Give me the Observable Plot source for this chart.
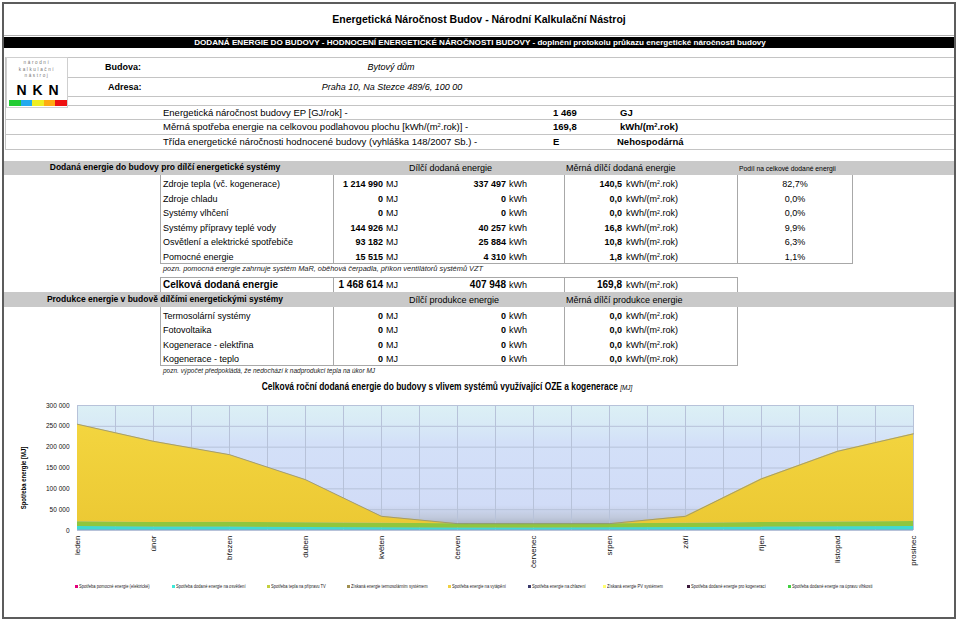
<!DOCTYPE html>
<html><head><meta charset="utf-8">
<script src="https://cdn.jsdelivr.net/npm/d3@7"></script>
<script src="https://cdn.jsdelivr.net/npm/@observablehq/plot@0.6"></script>
<style>
body{margin:0;background:#fff;font-family:Arial,"Liberation Sans",Helvetica,sans-serif;color:#000;}
#page{position:relative;width:959px;height:621px;overflow:hidden;background:#fff;}
sup{font-size:60%;vertical-align:0;position:relative;top:-0.5em;line-height:0;}
#chart{position:absolute;left:0;top:395px;}
</style></head><body><div id="page"></div>
<script>
// ---------- DATA ----------
const months = ["leden","únor","březen","duben","květen","červen","červenec","srpen","září","říjen","listopad","prosinec"];
const seriesNames = ["Spotřeba pomocné energie (elektrické)","Spotřeba dodané energie na osvětlení","Spotřeba tepla na přípravu TV","Spotřeba energie na vytápění"];
const auxMJ      = [1400,1300,1400,1300,1300,1200,1200,1200,1200,1300,1300,1400];
const lightingMJ = [8000,7200,6800,6000,5500,5000,5000,5200,5800,6800,7600,8200];
const hotWaterMJ = [11800,11000,11600,11200,10800,10200,10000,10000,10400,11200,11400,11900];
const heatingMJ  = [233800,194500,162200,103500,16400,0,0,0,16600,104700,169700,210500];
const yTicks = [0,50000,100000,150000,200000,250000,300000];
const legendNames = ["Spotřeba pomocné energie (elektrické)","Spotřeba dodané energie na osvětlení","Spotřeba tepla na přípravu TV","Získaná energie termosolárním systémem","Spotřeba energie na vytápění","Spotřeba energie na chlazení","Získaná energie PV systémem","Spotřeba dodané energie pro kogeneraci","Spotřeba dodané energie na úpravu vlhkosti"];

const rowLabels = ["Zdroje tepla (vč. kogenerace)","Zdroje chladu","Systémy vlhčení","Systémy přípravy teplé vody","Osvětlení a elektrické spotřebiče","Pomocné energie"];
const rowMJ    = ["1 214 990","0","0","144 926","93 182","15 515"];
const rowKWh   = ["337 497","0","0","40 257","25 884","4 310"];
const rowSpec  = ["140,5","0,0","0,0","16,8","10,8","1,8"];
const rowShare = ["82,7%","0,0%","0,0%","9,9%","6,3%","1,1%"];
const totalRow = ["Celková dodaná energie","1 468 614","407 948","169,8"];
const prodLabels = ["Termosolární systémy","Fotovoltaika","Kogenerace - elektřina","Kogenerace - teplo"];
const prodMJ   = ["0","0","0","0"];
const prodKWh  = ["0","0","0","0"];
const prodSpec = ["0,0","0,0","0,0","0,0"];
const summaryLabels = ["Energetická náročnost budovy EP [GJ/rok] -","Měrná spotřeba energie na celkovou podlahovou plochu [kWh/(m<sup>2</sup>.rok)] -","Třída energetické náročnosti hodnocené budovy (vyhláška 148/2007 Sb.) -"];
const summaryValues = ["1 469","169,8","E"];
const summaryUnits = ["GJ","kWh/(m<sup>2</sup>.rok)","Nehospodárná"];

// ---------- STYLES ----------
const chartColors = ["#8b95e0","#3fdad2","#8fc63e","url(#yelG)"];
const legendColors = ["#e4007c","#3ee8d8","#c3cf3c","#a09050","#f0d040","#3a3a6a","#ffff70","#3a1a3a","#40d040"];
const legendX = [75,172,267,347,448,528,603,687,788];

// ---------- LAYOUT HELPERS ----------
const page = document.getElementById("page");
function el(css, html){const d=document.createElement("div");d.style.cssText="position:absolute;"+css;if(html!=null)d.innerHTML=html;page.appendChild(d);return d;}
function txt(x,y,html,css="",anchor="l"){const tx=anchor==="r"?"-100%":anchor==="c"?"-50%":"0";return el(`left:${x}px;top:${y}px;transform:translate(${tx},-50%);white-space:nowrap;line-height:1.15;${css}`,html);}
function hl(x1,x2,y,c="#c4c4c4",h=1){el(`left:${x1}px;top:${y}px;width:${x2-x1}px;height:${h}px;background:${c}`);}
function vl(x,y1,y2,c="#a8a8a8"){el(`left:${x}px;top:${y1}px;width:1px;height:${y2-y1}px;background:${c}`);}

// frame
el("left:2px;top:2px;width:954px;height:617px;box-sizing:border-box;border:2px solid #5c5c5c");
hl(4,954,35,"#b0b0b0");
el("left:4px;top:37px;width:950px;height:11px;background:#000");
txt(480,42.5,"DODANÁ ENERGIE DO BUDOVY - HODNOCENÍ ENERGETICKÉ NÁROČNOSTI BUDOVY - doplnění protokolu průkazu energetické náročnosti budovy","color:#fff;font-weight:bold;font-size:8.1px","c");
txt(479,19,"Energetická Náročnost Budov - Národní Kalkulační Nástroj","font-weight:bold;font-size:10.5px","c");

// header lines
[57,77,96,105].forEach(y=>hl(68,954,y));
[119,134,149].forEach(y=>hl(5,954,y));
vl(5,57,149,"#c4c4c4");
// logo
el("left:6px;top:57px;width:62px;height:51px;box-sizing:border-box;border:1px solid #cfcfcf;background:#fff");
["národní","kalkulační","nástroj"].forEach((w,i)=>txt(37,63+i*6.5,w,"font-size:4.6px;letter-spacing:1.6px;color:#777","c"));
txt(38,89.5,"N&nbsp;K&nbsp;N","font-weight:bold;font-size:14px;letter-spacing:1px","c");
["#22cc33","#22aaee","#eeee22","#ffaa11","#ee1111"].forEach((c,i)=>el(`left:${9+i*11.6}px;top:100px;width:11.6px;height:6px;background:${c}`));

txt(105,67,"Budova:","font-weight:bold;font-size:9px");
txt(391,67,"Bytový dům","font-style:italic;font-size:9px","c");
txt(108,87,"Adresa:","font-weight:bold;font-size:9px");
txt(392,87,"Praha 10, Na Stezce 489/6, 100 00","font-style:italic;font-size:9px","c");

const sumY=[112.5,127,142];
summaryLabels.forEach((s,i)=>{
  txt(163,sumY[i],s,"font-size:9.5px");
  txt(553,sumY[i],summaryValues[i],"font-size:9.5px;font-weight:bold");
  txt(i===2?617:620,sumY[i],summaryUnits[i],"font-size:9.5px;font-weight:bold");
});

// band 1
el("left:4px;top:161px;width:950px;height:14px;background:#c9c9c9");
txt(165,168,"Dodaná energie do budovy pro dílčí energetické systémy","font-weight:bold;font-size:8.5px","c");
txt(409,168,"Dílčí dodaná energie","font-size:9px");
txt(566,168,"Měrná dílčí dodaná energie","font-size:9px");
txt(739,168.5,"Podíl na celkové dodané energii","font-size:6.8px");

// table 1
vl(160,175,263);vl(333,175,263);vl(564,175,263);vl(737,175,263);vl(852,175,263);
hl(160,853,263,"#a8a8a8");
const unitSpec="kWh/(m<sup>2</sup>.rok)";
function valueRow(y,label,mj,kwh,spec,bold){
  const fs=bold?"10px":"9px";
  txt(163,y,label,`font-size:${fs};${bold?"font-weight:bold":""}`);
  txt(383,y,mj,`font-size:${fs};font-weight:bold`,"r");
  txt(386,y,"MJ","font-size:9px");
  txt(506,y,kwh,`font-size:${fs};font-weight:bold`,"r");
  txt(509,y,"kWh","font-size:9px");
  txt(622,y,spec,`font-size:${fs};font-weight:bold`,"r");
  txt(626,y,unitSpec,"font-size:9px");
}
rowLabels.forEach((l,i)=>{
  const y=184+i*14.6;
  valueRow(y,l,rowMJ[i],rowKWh[i],rowSpec[i],false);
  txt(795,y,rowShare[i],"font-size:9px","c");
});
txt(163,268.5,"pozn. pomocná energie zahrnuje systém MaR, oběhová čerpadla, příkon ventilátorů systémů VZT","font-style:italic;font-size:7.4px;color:#222");

// total
hl(160,738,277,"#a8a8a8");
vl(160,277,292);vl(333,277,292);vl(564,277,292);vl(737,277,292);
valueRow(284.5,totalRow[0],totalRow[1],totalRow[2],totalRow[3],true);

// band 2
el("left:4px;top:292px;width:950px;height:15px;background:#c9c9c9");
txt(165,299.5,"Produkce energie v budově dílčími energetickými systémy","font-weight:bold;font-size:8.5px","c");
txt(409,299.5,"Dílčí produkce energie","font-size:9px");
txt(566,299.5,"Měrná dílčí produkce energie","font-size:9px");
vl(160,307,365);vl(333,307,365);vl(564,307,365);vl(737,307,365);
hl(160,738,365,"#a8a8a8");
prodLabels.forEach((l,i)=>valueRow(316+i*14.4,l,prodMJ[i],prodKWh[i],prodSpec[i],false));
txt(163,371,"pozn. výpočet předpokládá, že nedochází k nadprodukci tepla na úkor MJ","font-style:italic;font-size:6.5px;color:#222");

// chart title
txt(447,387,'Celková roční dodaná energie do budovy s vlivem systémů využívající OZE a kogenerace <span style="font-weight:normal;font-style:italic;font-size:7.5px">[MJ]</span>',"font-weight:bold;font-size:10px;transform:translate(-50%,-50%) scaleX(0.84)");
// y label
txt(24,478,"Spotřeba energie [MJ]","font-weight:bold;font-size:7px;transform:translate(-50%,-50%) rotate(-90deg) scaleX(0.85)");

// ---------- CHART ----------
const long=[];
const seriesVals=[auxMJ,lightingMJ,hotWaterMJ,heatingMJ];
seriesNames.forEach((s,k)=>months.forEach((m,i)=>long.push({i,series:s,value:seriesVals[k][i]})));
const totals=months.map((m,i)=>auxMJ[i]+lightingMJ[i]+hotWaterMJ[i]+heatingMJ[i]);
const gridX=d3.range(0,11.01,0.5);

function defsMark(index,scales,values,dim){
  const ns="http://www.w3.org/2000/svg";
  const g=document.createElementNS(ns,"g");
  const x0=dim.marginLeft,y0=dim.marginTop,w=dim.width-dim.marginLeft-dim.marginRight,h=dim.height-dim.marginTop-dim.marginBottom;
  g.innerHTML=`<defs>
  <linearGradient id="bgG" x1="0" y1="0" x2="0" y2="1">
   <stop offset="0" stop-color="#dcf0f5"/><stop offset="0.15" stop-color="#d8eaf6"/>
   <stop offset="0.3" stop-color="#d3e0f8"/><stop offset="0.8" stop-color="#d1dcf7"/>
   <stop offset="0.9" stop-color="#c0c9dc"/><stop offset="1" stop-color="#9aa3b5"/></linearGradient>
  <linearGradient id="yelG" x1="0" y1="0" x2="0" y2="1">
   <stop offset="0" stop-color="#f3d53f"/><stop offset="1" stop-color="#ecc934"/></linearGradient>
  </defs><rect x="${x0}" y="${y0}" width="${w}" height="${h}" fill="url(#bgG)"/>`;
  return g;
}
const fmt=d=>d3.format(",")(d).replace(/,/g," ");
const chart=Plot.plot({
  width:959,height:175,
  marginLeft:77,marginRight:46,marginTop:10,marginBottom:40,
  style:{fontFamily:"Arial, 'Liberation Sans', sans-serif",background:"transparent",overflow:"visible"},
  x:{type:"linear",domain:[0,11],axis:null},
  y:{domain:[0,300000],axis:null},
  color:{domain:seriesNames,range:chartColors},
  marks:[
    defsMark,
    Plot.ruleX(gridX,{x:d=>d,stroke:"#b7c2d9",strokeWidth:1}),
    Plot.ruleY(yTicks,{y:d=>d,stroke:"#b7c2d9",strokeWidth:1}),
    Plot.areaY(long,{x:"i",y:"value",fill:"series"}),
    Plot.lineY(totals,{x:(d,i)=>i,y:d=>d,stroke:"#8e8e7c",strokeWidth:0.8}),
    Plot.text(yTicks,{x:0,y:d=>d,text:fmt,dx:-8,textAnchor:"end",fontSize:6.5,fill:"#111"}),
    Plot.text(months,{x:(d,i)=>i,y:0,text:d=>d,rotate:-90,textAnchor:"end",dy:5,fontSize:8,fill:"#111"})
  ]
});
chart.id="chart";
page.appendChild(chart);

// legend
legendNames.forEach((n,i)=>{
  el(`left:${legendX[i]}px;top:584.5px;width:3px;height:3px;background:${legendColors[i]}`);
  el(`left:${legendX[i]+3.5}px;top:583px;white-space:nowrap;font-size:5px;line-height:6px;color:#222;transform:scaleX(0.82);transform-origin:left center`,n);
});
</script></body></html>
